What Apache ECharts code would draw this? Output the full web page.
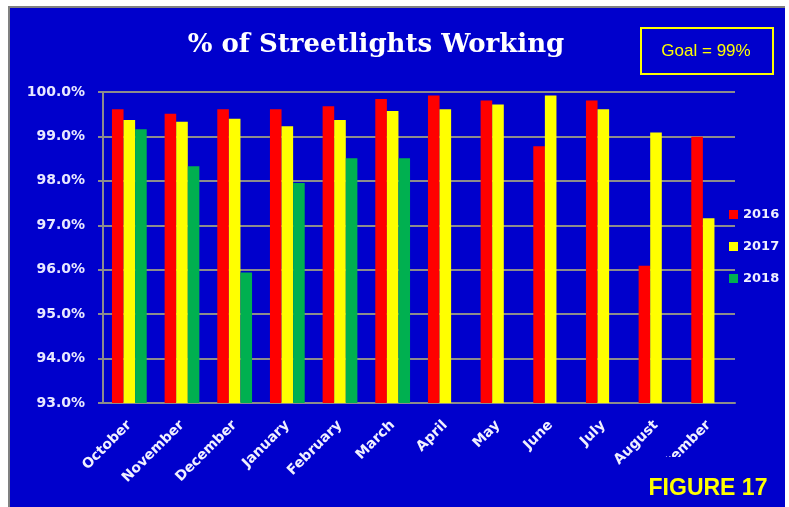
<!DOCTYPE html>
<html>
<head>
<meta charset="utf-8">
<script src="https://cdn.jsdelivr.net/npm/echarts@6/dist/echarts.min.js"></script>
<style>
  html, body { margin: 0; padding: 0; background: #fff; }
  #frame { position: absolute; left: 8px; top: 6px; width: 777px; height: 501px;
           background: #0000CC; border-left: 2px solid #808080; border-top: 2px solid #808080; box-sizing: border-box; }
  #chart { position: absolute; left: 0; top: 0; width: 789px; height: 507px; }
</style>
</head>
<body>
<div id="frame"></div>
<div id="chart"></div>
<script>
var months = ['October', 'November', 'December', 'January', 'February', 'March',
              'April', 'May', 'June', 'July', 'August', 'September'];
var y2016 = [99.61, 99.51, 99.61, 99.61, 99.68, 99.84, 99.92, 99.81, 98.78, 99.81, 96.09, 98.99];
var y2017 = [99.37, 99.33, 99.40, 99.23, 99.37, 99.57, 99.61, 99.72, 99.92, 99.61, 99.09, 97.16];
var y2018 = [99.16, 98.33, 95.94, 97.95, 98.51, 98.51, null, null, null, null, null, null];

var labelFont = 'DejaVu Sans';

function barSeries(name, data, color) {
    return {
        name: name,
        type: 'bar',
        data: data,
        barGap: '0%',
        barCategoryGap: '34%',
        itemStyle: { color: color }
    };
}

var chart = echarts.init(document.getElementById('chart'));
var option = {
    backgroundColor: 'transparent',
    animation: false,
    title: {
        text: '% of Streetlights Working',
        left: 371,
        textAlign: 'center',
        top: 27,
        textStyle: { color: '#fff', fontFamily: 'DejaVu Serif', fontSize: 26, fontWeight: 'bold' }
    },
    legend: {
        orient: 'vertical',
        left: 724,
        top: 203,
        itemWidth: 9,
        itemHeight: 9,
        itemGap: 19,
        icon: 'rect',
        textStyle: { color: '#F0F0FF', fontFamily: labelFont, fontWeight: 'bold', fontSize: 13 },
        data: ['2016', '2017', '2018']
    },
    grid: { left: 103, right: 54, top: 92, bottom: 104 },
    xAxis: {
        type: 'category',
        data: months,
        axisLine: { lineStyle: { color: '#8C8C8C', width: 2 } },
        axisTick: { length: 5, lineStyle: { color: '#8C8C8C', width: 2 } },
        axisLabel: { rotate: 45, color: '#F0F0FF', fontFamily: labelFont, fontWeight: 'bold', fontSize: 14, margin: 20, interval: 0 }
    },
    yAxis: {
        type: 'value',
        min: 93,
        max: 100,
        interval: 1,
        axisLine: { show: true, lineStyle: { color: '#8C8C8C', width: 2 } },
        axisTick: { show: true, length: 5, lineStyle: { color: '#8C8C8C', width: 2 } },
        splitLine: { lineStyle: { color: '#8C8C8C', width: 2 } },
        axisLabel: {
            color: '#E8E8FF', fontFamily: labelFont, fontWeight: 'bold', fontSize: 14, margin: 18,
            formatter: function (v) { return v.toFixed(1) + '%'; }
        }
    },
    graphic: [
        {
            type: 'rect', z: 100,
            shape: { x: 642, y: 457, width: 143, height: 50 },
            style: { fill: '#0000CC' }
        },
        {
            type: 'rect', z: 100,
            shape: { x: 641, y: 28, width: 132, height: 46 },
            style: { fill: 'transparent', stroke: '#FFFF00', lineWidth: 2 }
        },
        {
            type: 'text', z: 101,
            x: 706, y: 51,
            style: { text: 'Goal = 99%', fill: '#FFFF00', font: '17px "Liberation Sans Narrow", "Liberation Sans"', align: 'center', verticalAlign: 'middle' }
        },
        {
            type: 'text', z: 101,
            x: 708, y: 489,
            style: { text: 'FIGURE 17', fill: '#FFFF00', font: 'bold 23px "Liberation Sans Narrow", "Liberation Sans"', align: 'center', verticalAlign: 'middle' }
        }
    ],
    series: [
        barSeries('2016', y2016, '#FF0000'),
        barSeries('2017', y2017, '#FFFF00'),
        barSeries('2018', y2018, '#00B050')
    ]
};
chart.setOption(option);
</script>
</body>
</html>
